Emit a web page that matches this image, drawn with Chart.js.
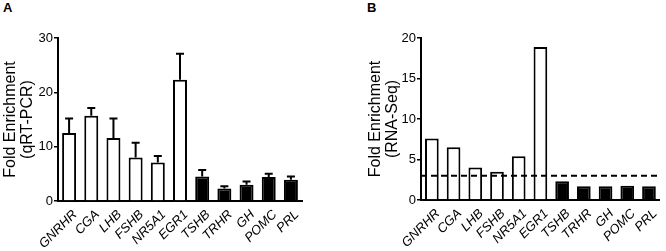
<!DOCTYPE html>
<html>
<head>
<meta charset="utf-8">
<script src="https://cdn.jsdelivr.net/npm/chart.js@4"></script>
<style>
  body { margin: 0; background: #fff; width: 666px; height: 251px; position: relative; overflow: hidden; }
  canvas { position: absolute; top: 0; }
  #chartA { left: 0; }
  #chartB { left: 365px; }
  .panel { position: absolute; top: 0; font: bold 13px "Liberation Sans", Arial, sans-serif; color: #000; }
</style>
</head>
<body>
<div class="panel" style="left:3px">A</div>
<div class="panel" style="left:367px">B</div>
<canvas id="chartA" width="333" height="251"></canvas>
<canvas id="chartB" width="301" height="251"></canvas>
<script>
var genes = ['GNRHR', 'CGA', 'LHB', 'FSHB', 'NR5A1', 'EGR1', 'TSHB', 'TRHR', 'GH', 'POMC', 'PRL'];
// first six are the white bars, the rest black
var openCount = 6;

var qpcrMean = [12.5, 15.7, 11.6, 8.0, 7.1, 22.3, 4.5, 2.3, 3.0, 4.4, 3.9];
var qpcrSem = [2.7, 1.4, 3.6, 2.7, 1.2, 4.8, 1.2, 0.4, 0.6, 0.6, 0.6];

var rnaSeq = [7.6, 6.5, 4.0, 3.5, 5.4, 18.9, 2.3, 1.7, 1.7, 1.75, 1.7];
var rnaThreshold = 3;

var FONT = '"Liberation Sans", Arial, sans-serif';

var fills = genes.map(function(g, i) { return i < openCount ? '#fff' : '#000'; });

var errorBars = {
    id: 'errorBars',
    afterDatasetsDraw: function(chart, args, opts) {
        if (!opts.sem) return;
        var ctx = chart.ctx;
        var y = chart.scales.y;
        var meta = chart.getDatasetMeta(0);
        ctx.save();
        ctx.strokeStyle = '#000';
        ctx.lineWidth = 2;
        meta.data.forEach(function(bar, i) {
            var top = y.getPixelForValue(chart.data.datasets[0].data[i] + opts.sem[i]);
            ctx.beginPath();
            ctx.moveTo(bar.x, bar.y);
            ctx.lineTo(bar.x, top);
            ctx.moveTo(bar.x - 4, top);
            ctx.lineTo(bar.x + 4, top);
            ctx.stroke();
        });
        ctx.restore();
    }
};

var cutoffLine = {
    id: 'cutoffLine',
    afterDatasetsDraw: function(chart, args, opts) {
        if (opts.value == null) return;
        var ctx = chart.ctx;
        var py = chart.scales.y.getPixelForValue(opts.value);
        ctx.save();
        ctx.strokeStyle = '#000';
        ctx.lineWidth = 2;
        ctx.setLineDash([6, 4]);
        ctx.beginPath();
        ctx.moveTo(chart.chartArea.left, py);
        ctx.lineTo(chart.chartArea.right, py);
        ctx.stroke();
        ctx.restore();
    }
};

function makeChart(id, values, yTitle, yMax, yStep, yWidth, padRight, xHeight, sem, cutoff) {
    return new Chart(document.getElementById(id), {
        type: 'bar',
        data: {
            labels: genes,
            datasets: [{
                data: values,
                backgroundColor: fills,
                borderColor: '#000',
                borderWidth: 2,
                barPercentage: 0.63,
                categoryPercentage: 1
            }]
        },
        options: {
            animation: false,
            responsive: false,
            layout: { padding: { top: 38, right: padRight, left: 0, bottom: 0 } },
            plugins: {
                legend: { display: false },
                tooltip: { enabled: false },
                errorBars: { sem: sem },
                cutoffLine: { value: cutoff }
            },
            scales: {
                x: {
                    grid: { display: false, drawTicks: false },
                    border: { color: '#000', width: 2 },
                    ticks: {
                        autoSkip: false,
                        minRotation: 45,
                        maxRotation: 45,
                        padding: 6,
                        labelOffset: 6,
                        color: '#000',
                        font: { family: FONT, size: 13, style: 'italic' }
                    },
                    afterFit: function(s) { s.height = xHeight; }
                },
                y: {
                    min: 0,
                    max: yMax,
                    grid: { drawOnChartArea: false, drawTicks: true, tickLength: 4, color: '#000', lineWidth: 1.5 },
                    border: { color: '#000', width: 2 },
                    ticks: {
                        stepSize: yStep,
                        padding: 1,
                        color: '#000',
                        font: { family: FONT, size: 13 }
                    },
                    title: {
                        display: true,
                        text: yTitle,
                        color: '#000',
                        padding: { top: 2, bottom: 0 },
                        font: { family: FONT, size: 16, lineHeight: 1.08 }
                    },
                    afterFit: function(s) { s.width = yWidth; }
                }
            }
        },
        plugins: [errorBars, cutoffLine]
    });
}

var chartA = makeChart('chartA', qpcrMean, ['Fold Enrichment', '(qRT-PCR)'], 30, 10, 58, 31, 50, qpcrSem, null);
var chartB = makeChart('chartB', rnaSeq, ['Fold Enrichment', '(RNA-Seq)'], 20, 5, 56, 0, 51, null, rnaThreshold);
</script>
</body>
</html>
